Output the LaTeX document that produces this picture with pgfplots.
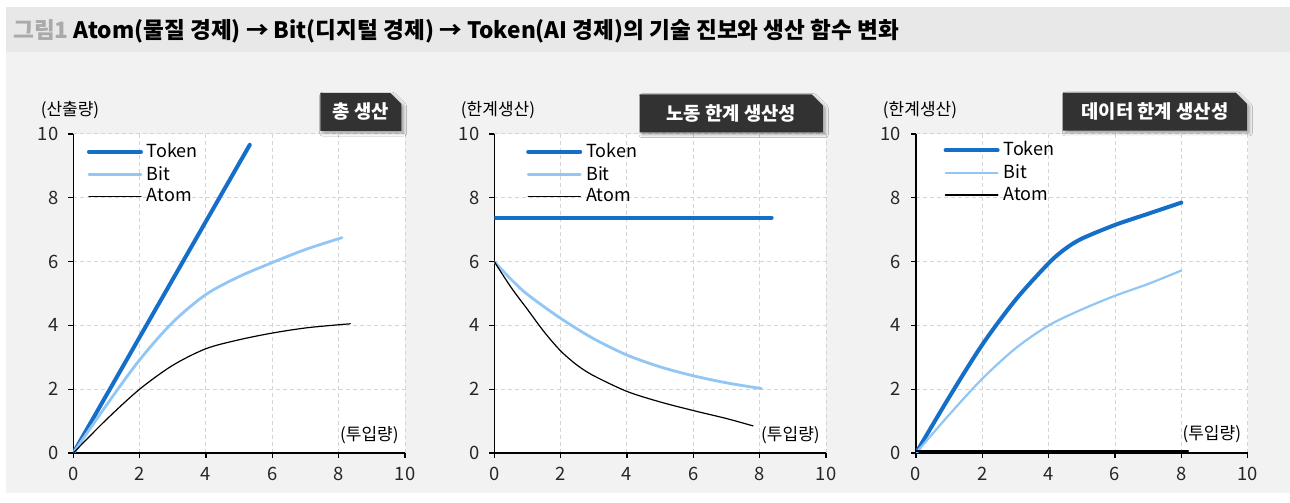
\documentclass[border=0pt]{standalone}
\usepackage{fontspec}
\setmainfont{Noto Sans CJK KR}
\usepackage{pgfplots}
\pgfplotsset{compat=1.18}
\usetikzlibrary{shapes.misc,shadows.blur}

\definecolor{tokenblue}{RGB}{21,111,200}
\definecolor{bitblue}{RGB}{146,198,244}
\definecolor{panelgray}{RGB}{242,242,242}
\definecolor{bandgray}{RGB}{232,232,232}
\definecolor{gridgray}{RGB}{212,212,212}
\definecolor{boxgray}{RGB}{50,50,50}
\definecolor{numgray}{RGB}{170,170,170}

\pgfplotsset{
  panel/.style={
    scale only axis, width=165.85pt, height=159.5pt, anchor=south west,
    xmin=0, xmax=10, ymin=0, ymax=10,
    xtick={0,2,...,10}, ytick={0,2,...,10},
    axis lines*=left, axis line style={black, line width=0.6pt},
    tick align=outside, major tick length=2.5pt,
    tick style={black, line width=0.6pt},
    grid=major, major grid style={gridgray, dash pattern=on 2pt off 1.5pt, line width=0.5pt},
    axis background/.style={fill=white},
    ticklabel style={font=\fontsize{9.2}{10}\selectfont, text=black!85},
    xticklabel style={yshift=-1.2pt},
    yticklabel style={xshift=-1.5pt},
    /pgf/number format/assume math mode=true,
    legend style={draw=none, fill=none, font=\fontsize{9}{9}\selectfont,
      anchor=north west, inner sep=0pt, row sep=-1.2pt},
    legend cell align=left,
    legend image code/.code={\draw[##1] (0pt,0pt) -- (26pt,0pt);},
    every axis plot/.append style={line cap=round, line join=round},
  },
  tok/.style={tokenblue, line width=2pt},
  bit/.style={bitblue, line width=1.4pt},
  atm/.style={black, line width=0.6pt},
}

\newcommand{\tagbox}[4]{%
  \node[chamfered rectangle, chamfered rectangle corners=north east,
        chamfered rectangle xsep=2pt, fill=boxgray, text=white,
        inner sep=0pt, minimum width=#2, minimum height=19pt,
        anchor=south east, font=\bfseries\fontsize{9.4}{10}\selectfont,
        blur shadow={shadow xshift=1.2pt, shadow yshift=-1.2pt,
                     shadow blur radius=1.5pt, shadow opacity=35}]
        at (#1,#3) {#4};}

\begin{document}
\begin{tikzpicture}
% page and title band
\fill[white] (0pt,0pt) rectangle (645pt,251.5pt);
\fill[panelgray] (3pt,5pt) rectangle (645pt,225.5pt);
\fill[bandgray] (3pt,225.5pt) rectangle (645pt,248pt);
\node[anchor=west, inner sep=0pt, font=\bfseries\fontsize{11.3}{12}\selectfont]
  at (6.5pt,236pt)
  {\textcolor{numgray}{그림1} Atom(물질 경제) → Bit(디지털 경제) → Token(AI 경제)의 기술 진보와 생산 함수 변화};

% ---- total output
\begin{axis}[panel, at={(36.65pt,25pt)}, legend style={at={(0.04,0.985)}}]
\addplot[tok] coordinates {(0,0) (5.32,9.66)};
\addlegendentry{Token}
\addplot[bit, smooth] coordinates {(0,0) (1,1.5) (2,2.92) (3,4.1) (4,4.97) (5,5.53) (6,5.97) (7,6.38) (8.1,6.75)};
\addlegendentry{Bit}
\addplot[atm, smooth] coordinates {(0,0) (1,1.05) (2,2.0) (3,2.75) (4,3.27) (5,3.55) (6,3.76) (7,3.92) (8,4.02) (8.35,4.05)};
\addlegendentry{Atom}
\node[anchor=east, inner sep=0pt, font=\fontsize{8.5}{9}\selectfont] at (axis cs:9.82,0.55) {(투입량)};
\end{axis}
\node[font=\fontsize{8.5}{9}\selectfont] at (35pt,196.5pt) {(산출량)};
\tagbox{200.85pt}{40.5pt}{185.9pt}{총 생산}

% ---- marginal product of labour
\begin{axis}[panel, at={(247.15pt,25pt)}, legend style={at={(0.095,0.985)}}]
\addplot[tok] coordinates {(0,7.38) (8.36,7.38)};
\addlegendentry{Token}
\addplot[bit, smooth] coordinates {(0,6.0) (0.5,5.45) (1,4.97) (2,4.22) (3,3.58) (4,3.07) (5,2.7) (6,2.42) (7,2.2) (8.05,2.02)};
\addlegendentry{Bit}
\addplot[atm, smooth] coordinates {(0,6.0) (0.5,5.2) (1,4.5) (1.5,3.8) (2,3.2) (2.5,2.75) (3,2.42) (4,1.93) (5,1.6) (6,1.33) (7,1.08) (7.8,0.85)};
\addlegendentry{Atom}
\node[anchor=east, inner sep=0pt, font=\fontsize{8.5}{9}\selectfont] at (axis cs:9.82,0.55) {(투입량)};
\end{axis}
\node[font=\fontsize{8.5}{9}\selectfont] at (249pt,196.5pt) {(한계생산)};
\tagbox{411.65pt}{91.65pt}{185.15pt}{노동 한계 생산성}

% ---- marginal product of data
\begin{axis}[panel, at={(458pt,25pt)}, legend style={at={(0.082,0.99)}}]
\addplot[tok, smooth] coordinates {(0,0) (1,1.75) (2,3.4) (3,4.8) (4,5.95) (4.5,6.4) (5,6.72) (6,7.15) (7,7.5) (8,7.85)};
\addlegendentry{Token}
\addplot[bit, line width=1.1pt, smooth] coordinates {(0,0) (1,1.2) (2,2.33) (3,3.28) (4,4.0) (5,4.5) (6,4.93) (7,5.3) (8,5.72)};
\addlegendentry{Bit}
\addplot[atm, line width=1pt] coordinates {(0,0.05) (8.2,0.05)};
\addlegendentry{Atom}
\node[anchor=east, inner sep=0pt, font=\fontsize{8.5}{9}\selectfont] at (axis cs:9.81,0.58) {(투입량)};
\end{axis}
\node[font=\fontsize{8.5}{9}\selectfont] at (460pt,196.5pt) {(한계생산)};
\tagbox{623.65pt}{92pt}{186pt}{데이터 한계 생산성}
\end{tikzpicture}
\end{document}
